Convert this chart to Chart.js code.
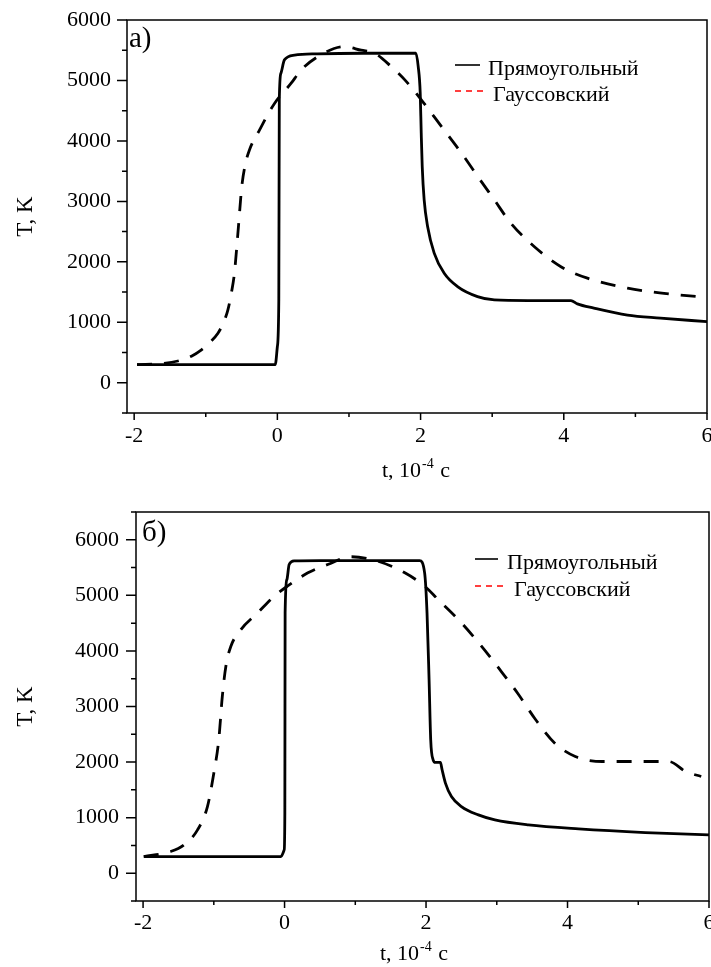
<!DOCTYPE html>
<html>
<head>
<meta charset="utf-8">
<script src="https://cdn.jsdelivr.net/npm/chart.js@4.4.0/dist/chart.umd.min.js"></script>
<style>
  html, body { margin: 0; padding: 0; background: #fff; }
  #wrap { position: relative; width: 711px; height: 967px; }
  canvas { position: absolute; left: 0; }
  #chartA { top: 0; }
  #chartB { top: 480px; }
</style>
</head>
<body>
<div id="wrap">
  <canvas id="chartA" width="711" height="480"></canvas>
  <canvas id="chartB" width="711" height="487"></canvas>
</div>
<script>
// names of the two pulse shapes
const seriesNames = ['Прямоугольный', 'Гауссовский'];

// axis ticks: t in 10^-4 s, T in K
const tTicks = [-2, 0, 2, 4, 6];
const tMinor = [-1, 1, 3, 5];
const TTicks = [0, 1000, 2000, 3000, 4000, 5000, 6000];
const TMinorA = [-500, 500, 1500, 2500, 3500, 4500, 5500];
const TMinorB = [-500, 500, 1500, 2500, 3500, 4500, 5500, 6500];

// panel a) rectangular pulse
const tRectA = [-1.96, -0.03, 0, 0.02, 0.027, 0.05, 0.098, 0.24, 0.56, 1.2, 1.934, 1.967, 1.995, 2.009, 2.023, 2.05, 2.098, 2.19, 2.33, 2.516, 2.795, 3.03, 3.5, 4.1, 4.19, 4.42, 4.89, 5.35, 6.0];
const TRectA = [300, 300, 600, 1370, 4680, 5120, 5340, 5420, 5440, 5450, 5450, 5230, 4790, 4130, 3575, 3025, 2585, 2145, 1810, 1590, 1425, 1370, 1360, 1360, 1305, 1235, 1120, 1070, 1010];

// panel a) gaussian pulse
const tGaussA = [-1.96, -1.6, -1.39, -1.2, -1.06, -0.95, -0.83, -0.75, -0.69, -0.64, -0.6, -0.544, -0.497, -0.45, -0.39, -0.25, -0.04, 0.19, 0.33, 0.56, 0.93, 1.17, 1.36, 1.59, 1.78, 2.01, 2.29, 2.57, 2.8, 3.03, 3.26, 3.59, 3.96, 4.33, 4.89, 5.4, 6.0];
const TGaussA = [300, 320, 360, 440, 545, 660, 820, 1000, 1210, 1500, 1810, 2580, 3245, 3600, 3850, 4180, 4620, 4950, 5170, 5390, 5560, 5500, 5450, 5230, 5010, 4680, 4240, 3800, 3410, 3025, 2640, 2250, 1920, 1730, 1565, 1480, 1410];

// panel б) rectangular pulse
const tRectB = [-1.99, -0.052, -0.005, 0.004, 0.008, 0.033, 0.065, 0.136, 0.5, 1.909, 1.98, 2.014, 2.043, 2.066, 2.1, 2.132, 2.203, 2.227, 2.274, 2.359, 2.5, 2.74, 2.973, 3.447, 4.156, 5.1, 6.0];
const TRectB = [300, 300, 420, 1080, 4685, 5285, 5555, 5620, 5625, 5625, 5405, 4685, 3483, 2402, 2041, 1993, 1993, 1861, 1622, 1380, 1200, 1050, 960, 870, 798, 732, 690];

// panel б) gaussian pulse
const tGaussB = [-1.99, -1.61, -1.42, -1.23, -1.09, -1.0, -0.93, -0.88, -0.83, -0.76, -0.62, -0.38, -0.15, 0.04, 0.33, 0.61, 0.94, 1.32, 1.7, 1.98, 2.17, 2.5, 2.78, 3.07, 3.3, 3.54, 3.82, 4.11, 4.49, 5.43, 5.67, 5.89];
const TGaussB = [300, 390, 510, 780, 1200, 1800, 2400, 3180, 3720, 4080, 4380, 4685, 4980, 5165, 5405, 5555, 5695, 5615, 5405, 5165, 4925, 4505, 4090, 3620, 3230, 2780, 2340, 2100, 2010, 2010, 1830, 1740];

const SERIF = '"Liberation Serif", "Times New Roman", serif';

function pts(ts, vals) {
  return ts.map((t, i) => ({ x: t, y: vals[i] }));
}

// box frame, outward ticks, panel letter, legend and x-axis title
const decor = {
  id: 'decor',
  afterDatasetsDraw(chart, args, o) {
    const { ctx, chartArea: a, scales: { x, y } } = chart;
    ctx.save();
    ctx.strokeStyle = '#000';
    ctx.lineWidth = 1.5;
    ctx.strokeRect(a.left, a.top, a.right - a.left, a.bottom - a.top);

    ctx.beginPath();
    tTicks.forEach(v => { const p = x.getPixelForValue(v); ctx.moveTo(p, a.bottom); ctx.lineTo(p, a.bottom + 7); });
    tMinor.forEach(v => { const p = x.getPixelForValue(v); ctx.moveTo(p, a.bottom); ctx.lineTo(p, a.bottom + 4); });
    TTicks.forEach(v => { const p = y.getPixelForValue(v); ctx.moveTo(a.left, p); ctx.lineTo(a.left - 10, p); });
    o.minorT.forEach(v => { const p = y.getPixelForValue(v); ctx.moveTo(a.left, p); ctx.lineTo(a.left - 5, p); });
    ctx.stroke();

    ctx.fillStyle = '#000';
    ctx.textBaseline = 'alphabetic';
    ctx.textAlign = 'left';
    ctx.font = '29px ' + SERIF;
    ctx.fillText(o.letter, a.left + o.letterDx, a.top + o.letterDy);

    // legend
    const L = o.legend;
    ctx.font = '22px ' + SERIF;
    ctx.lineWidth = 1.6;
    ctx.beginPath();
    ctx.moveTo(L.x, L.y1); ctx.lineTo(L.x + L.w1, L.y1);
    ctx.stroke();
    ctx.fillText(seriesNames[0], L.tx1, L.y1 + 10);
    ctx.strokeStyle = '#ff0000';
    ctx.setLineDash([6, 5]);
    ctx.beginPath();
    ctx.moveTo(L.x, L.y2); ctx.lineTo(L.x + L.w2, L.y2);
    ctx.stroke();
    ctx.setLineDash([]);
    ctx.fillText(seriesNames[1], L.tx2, L.y2 + 10);

    // x title with superscript exponent
    const main1 = 't, 10', sup = '-4', main2 = ' c';
    ctx.font = '22px ' + SERIF;
    const w1 = ctx.measureText(main1).width, w3 = ctx.measureText(main2).width;
    ctx.font = '14px ' + SERIF;
    const w2 = ctx.measureText(sup).width;
    let tx = o.xTitle.cx - (w1 + w2 + w3 + 2) / 2;
    const by = o.xTitle.base;
    ctx.font = '22px ' + SERIF;
    ctx.fillText(main1, tx, by);
    ctx.font = '14px ' + SERIF;
    ctx.fillText(sup, tx + w1 + 1, by - 9);
    ctx.font = '22px ' + SERIF;
    ctx.fillText(main2, tx + w1 + w2 + 2, by);
    ctx.restore();
  }
};

function makeChart(id, rect, gauss, cfg) {
  return new Chart(document.getElementById(id), {
    type: 'line',
    data: {
      datasets: [
        {
          label: seriesNames[0],
          data: rect,
          borderColor: '#000',
          borderWidth: 2.8,
          pointRadius: 0,
          fill: false,
          cubicInterpolationMode: 'monotone'
        },
        {
          label: seriesNames[1],
          data: gauss,
          borderColor: '#000',
          borderWidth: 2.8,
          borderDash: [15, 12],
          pointRadius: 0,
          fill: false,
          cubicInterpolationMode: 'monotone'
        }
      ]
    },
    options: {
      responsive: false,
      animation: false,
      layout: { padding: { top: cfg.padTop, right: cfg.padRight, left: 0, bottom: 0 } },
      plugins: {
        legend: { display: false },
        tooltip: { enabled: false },
        decor: cfg.decor
      },
      scales: {
        x: {
          type: 'linear',
          min: -2.1,
          max: 6,
          grid: { drawOnChartArea: false, drawTicks: false },
          border: { display: false },
          afterBuildTicks: s => { s.ticks = tTicks.map(v => ({ value: v })); },
          afterFit: s => { s.height = cfg.xHeight; s.paddingLeft = 0; s.paddingRight = 0; },
          ticks: {
            padding: cfg.xPad,
            color: '#000',
            maxRotation: 0,
            autoSkip: false,
            font: { family: SERIF, size: 22 },
            callback: v => String(v)
          }
        },
        y: {
          min: -500,
          max: cfg.yMax,
          grid: { drawOnChartArea: false, drawTicks: false },
          border: { display: false },
          afterBuildTicks: s => { s.ticks = TTicks.map(v => ({ value: v })); },
          afterFit: s => { s.width = cfg.yWidth; s.paddingTop = 0; s.paddingBottom = 0; },
          title: {
            display: true,
            text: 'T, K',
            color: '#000',
            padding: { top: 12, bottom: 0 },
            font: { family: SERIF, size: 23 }
          },
          ticks: {
            padding: cfg.yPad,
            color: '#000',
            autoSkip: false,
            font: { family: SERIF, size: 22 },
            callback: v => String(v)
          }
        }
      }
    },
    plugins: [decor]
  });
}

makeChart('chartA', pts(tRectA, TRectA), pts(tGaussA, TGaussA), {
  padTop: 20, padRight: 4, xHeight: 67, yWidth: 127, yMax: 6000, xPad: 10, yPad: 16,
  decor: {
    minorT: TMinorA,
    letter: 'a)', letterDx: 2, letterDy: 27,
    legend: { x: 455, w1: 25, w2: 30, y1: 65, y2: 91, tx1: 488, tx2: 493 },
    xTitle: { cx: 416, base: 477 }
  }
});

makeChart('chartB', pts(tRectB, TRectB), pts(tGaussB, TGaussB), {
  padTop: 32, padRight: 2, xHeight: 66, yWidth: 136, yMax: 6500, xPad: 9, yPad: 17,
  decor: {
    minorT: TMinorB,
    letter: 'б)', letterDx: 6, letterDy: 29,
    legend: { x: 475, w1: 23, w2: 31, y1: 79, y2: 106, tx1: 507, tx2: 514 },
    xTitle: { cx: 414, base: 480 }
  }
});
</script>
</body>
</html>
